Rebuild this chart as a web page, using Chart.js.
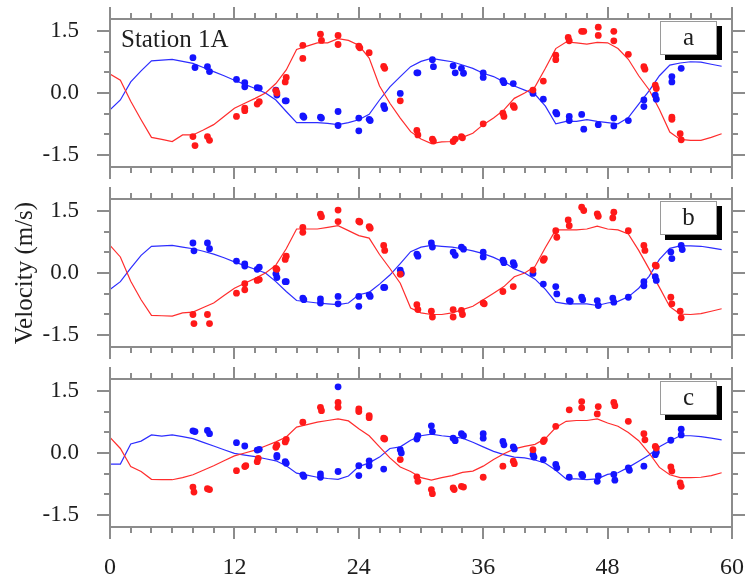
<!DOCTYPE html>
<html>
<head>
<meta charset="utf-8">
<script src="https://cdn.jsdelivr.net/npm/chart.js@4.4.1/dist/chart.umd.min.js"></script>
<style>
  html, body { margin: 0; padding: 0; background: #fff; }
  #wrap { position: relative; width: 745px; height: 577px; }
  #wrap canvas { position: absolute; left: 0; top: 0; }
</style>
</head>
<body>
<div id="wrap">
  <canvas id="cA" width="745" height="577"></canvas>
  <canvas id="cB" width="745" height="577"></canvas>
  <canvas id="cC" width="745" height="577"></canvas>
</div>
<script>
// ---------------- DATA ----------------
const stationName = 'Station 1A';
const yTitle = 'Velocity (m/s)';
const panelLabels = ['a', 'b', 'c'];
const xTickValues = [0, 12, 24, 36, 48, 60];
const xMinorTicks = [0,2,4,6,8,10,12,14,16,18,20,22,24,26,28,30,32,34,36,38,40,42,44,46,48,50,52,54,56,58,60];
const yTickValues = [-1.5, 0, 1.5];
const yMinorTicks = [-1.5, -1.0, -0.5, 0, 0.5, 1.0, 1.5];

const modelHours = [0,1,2,3,4,5,6,7,8,9,10,11,12,13,14,15,16,17,18,19,20,21,22,23,24,25,26,27,28,29,
                    30,31,32,33,34,35,36,37,38,39,40,41,42,43,44,45,46,47,48,49,50,51,52,53,54,55,56,57,58,59];

const aBlueModel = [-0.41,-0.17,0.27,0.54,0.78,0.80,0.82,0.77,0.72,0.62,0.52,0.42,0.31,0.21,0.11,0.00,-0.17,-0.45,-0.72,-0.72,
                    -0.72,-0.74,-0.77,-0.72,-0.65,-0.52,-0.17,0.15,0.40,0.64,0.77,0.84,0.80,0.76,0.68,0.60,0.48,0.40,0.27,0.17,
                    0.07,-0.03,-0.32,-0.75,-0.69,-0.69,-0.65,-0.69,-0.72,-0.75,-0.60,-0.27,0.05,0.42,0.68,0.73,0.76,0.75,0.70,0.65];
const aRedModel  = [0.46,0.31,-0.20,-0.65,-1.08,-1.13,-1.18,-1.02,-1.02,-0.90,-0.77,-0.57,-0.37,-0.25,-0.13,0.00,0.23,0.56,1.06,1.14,
                    1.22,1.22,1.32,1.28,1.16,0.85,0.17,-0.25,-0.61,-0.94,-1.12,-1.23,-1.19,-1.18,-1.08,-0.98,-0.77,-0.61,-0.41,-0.13,
                    0.00,0.15,0.60,1.08,1.24,1.22,1.19,1.23,1.22,1.08,0.82,0.42,0.08,-0.40,-0.95,-1.13,-1.15,-1.15,-1.08,-0.99];
const bBlueModel = [-0.40,-0.21,0.12,0.43,0.65,0.66,0.67,0.63,0.59,0.53,0.46,0.37,0.27,0.18,0.09,0.00,-0.21,-0.45,-0.67,-0.70,
                    -0.73,-0.75,-0.77,-0.73,-0.53,-0.47,-0.27,-0.05,0.23,0.52,0.63,0.67,0.65,0.63,0.59,0.54,0.47,0.38,0.26,0.10,
                    0.00,-0.15,-0.40,-0.71,-0.75,-0.75,-0.75,-0.79,-0.73,-0.69,-0.58,-0.37,-0.08,0.33,0.60,0.66,0.66,0.65,0.61,0.57];
const bRedModel  = [0.67,0.39,-0.20,-0.65,-1.03,-1.04,-1.05,-0.97,-0.95,-0.84,-0.73,-0.55,-0.37,-0.25,-0.13,0.00,0.19,0.59,1.07,1.07,
                    1.07,1.11,1.15,1.03,0.91,0.85,0.45,0.11,-0.25,-0.85,-0.97,-1.01,-1.01,-0.97,-0.89,-0.81,-0.65,-0.49,-0.33,-0.09,
                    0.00,0.16,0.62,1.05,1.05,1.05,1.07,1.14,1.07,1.05,0.95,0.55,0.10,-0.35,-0.82,-1.00,-1.01,-0.99,-0.93,-0.87];
const cBlueModel = [-0.27,-0.27,0.22,0.29,0.44,0.41,0.44,0.40,0.35,0.26,0.17,0.08,-0.01,-0.05,-0.09,-0.14,-0.19,-0.31,-0.49,-0.54,
                    -0.59,-0.62,-0.64,-0.56,-0.33,-0.24,-0.10,0.11,0.15,0.31,0.42,0.46,0.42,0.39,0.36,0.26,0.15,0.04,-0.04,-0.10,
                    -0.12,-0.17,-0.25,-0.42,-0.63,-0.63,-0.65,-0.63,-0.52,-0.48,-0.35,-0.20,-0.05,0.15,0.29,0.42,0.42,0.40,0.36,0.32];
const cRedModel  = [0.38,0.11,-0.33,-0.45,-0.64,-0.65,-0.65,-0.60,-0.53,-0.42,-0.31,-0.19,-0.07,0.00,0.07,0.17,0.27,0.39,0.63,0.69,
                    0.75,0.79,0.83,0.78,0.59,0.42,0.15,-0.12,-0.34,-0.45,-0.60,-0.66,-0.60,-0.55,-0.47,-0.44,-0.32,-0.16,-0.02,0.10,
                    0.16,0.21,0.35,0.62,0.77,0.79,0.79,0.83,0.73,0.65,0.50,0.30,0.00,-0.35,-0.53,-0.60,-0.60,-0.59,-0.55,-0.48];

// observations: [hour, velocity]
const aRedObs = [[8.0,-1.06],[8.2,-1.28],[9.4,-1.06],[9.6,-1.15],[12.2,-0.57],[13.0,-0.37],[13.0,-0.43],[14.2,-0.27],[14.4,-0.21],
  [16.0,0.06],[16.1,0.0],[16.9,0.27],[17.0,0.38],[18.6,1.16],[18.6,0.84],[20.3,1.43],[20.4,1.28],[22.0,1.40],[22.0,1.18],
  [24.0,1.14],[24.1,1.10],[25.0,0.98],[26.4,0.65],[26.5,0.60],[28.0,-0.19],[29.6,-0.91],[29.7,-1.02],[31.1,-1.12],[31.2,-1.17],
  [33.1,-1.18],[33.3,-1.12],[33.9,-1.06],[34.0,-1.09],[36.0,-0.75],[37.9,-0.49],[38.0,-0.57],[38.9,-0.31],[39.0,-0.35],
  [40.8,0.07],[41.8,0.29],[43.0,0.92],[43.0,0.81],[44.2,1.35],[44.3,1.27],[45.5,1.50],[45.7,1.50],[47.1,1.60],[47.1,1.40],
  [48.6,1.50],[48.6,1.27],[50.0,0.94],[51.5,0.64],[51.6,0.58],[52.6,0.19],[52.7,0.11],[54.2,-0.59],[54.2,-0.64],[55.0,-0.99],[55.1,-1.14]];
const aBlueObs = [[8.0,0.86],[8.2,0.62],[9.4,0.64],[9.6,0.52],[12.2,0.33],[13.0,0.25],[13.0,0.15],[14.2,0.13],[14.4,0.12],
  [16.0,0.07],[16.1,-0.05],[16.9,-0.19],[17.0,-0.19],[18.6,-0.56],[18.7,-0.59],[20.3,-0.59],[20.4,-0.61],[22.0,-0.45],[22.0,-0.79],
  [24.0,-0.61],[24.0,-0.92],[25.0,-0.64],[25.1,-0.67],[26.4,-0.31],[26.5,-0.38],[28.0,-0.01],[29.6,0.49],[29.7,0.49],[31.1,0.81],[31.2,0.64],
  [33.1,0.66],[33.3,0.49],[33.9,0.60],[34.1,0.48],[36.0,0.49],[36.0,0.38],[37.9,0.30],[38.0,0.25],[38.9,0.23],[40.8,-0.01],[41.8,-0.15],
  [43.0,-0.47],[43.1,-0.51],[44.3,-0.57],[44.3,-0.67],[45.5,-0.52],[45.7,-0.88],[47.1,-0.77],[48.6,-0.61],[48.6,-0.80],[50.0,-0.67],
  [51.5,-0.17],[51.5,-0.33],[52.6,-0.05],[52.7,-0.15],[54.2,0.40],[54.2,0.27],[55.1,0.60]];
const bRedObs = [[8.0,-1.01],[8.1,-1.23],[9.4,-1.01],[9.6,-1.23],[12.2,-0.49],[13.0,-0.26],[13.0,-0.41],[14.2,-0.18],[14.4,-0.16],
  [16.0,0.11],[16.1,0.09],[16.9,0.33],[17.0,0.41],[18.6,1.11],[18.6,0.99],[20.3,1.43],[20.4,1.37],[22.0,1.53],[22.0,1.25],
  [24.0,1.26],[24.1,1.24],[25.0,1.13],[25.1,1.09],[26.4,0.67],[26.5,0.55],[28.0,-0.03],[29.6,-0.77],[29.7,-0.89],[31.0,-0.93],[31.1,-1.07],
  [33.1,-0.89],[33.1,-1.07],[33.9,-0.91],[34.0,-1.01],[36.0,-0.73],[36.1,-0.75],[37.9,-0.45],[38.9,-0.33],[40.8,0.07],[41.8,0.31],[41.9,0.35],
  [43.0,1.03],[43.1,0.87],[44.2,1.29],[44.3,1.15],[45.5,1.60],[45.7,1.52],[47.0,1.44],[47.1,1.38],[48.6,1.48],[48.5,1.34],[50.0,1.03],
  [51.5,0.67],[51.6,0.55],[52.6,0.19],[52.7,0.17],[54.1,-0.59],[54.2,-0.75],[55.0,-0.93],[55.1,-1.09]];
const bBlueObs = [[8.0,0.73],[8.1,0.54],[9.4,0.73],[9.6,0.59],[12.2,0.29],[13.0,0.22],[13.0,0.17],[14.2,0.09],[14.4,0.14],
  [16.0,-0.02],[16.1,-0.11],[16.9,-0.21],[17.0,-0.21],[18.6,-0.61],[18.7,-0.65],[20.3,-0.63],[20.3,-0.73],[22.0,-0.57],[22.0,-0.75],
  [24.0,-0.57],[24.0,-0.81],[25.0,-0.53],[25.1,-0.57],[26.4,-0.35],[26.5,-0.35],[28.0,0.07],[28.1,-0.01],[29.6,0.46],[29.7,0.41],
  [31.0,0.73],[31.1,0.63],[33.1,0.51],[33.3,0.43],[33.9,0.63],[34.1,0.58],[36.0,0.51],[36.0,0.39],[37.9,0.31],[38.0,0.25],[38.9,0.25],[39.0,0.19],
  [40.8,-0.01],[41.8,-0.27],[43.0,-0.33],[43.1,-0.51],[44.3,-0.67],[44.4,-0.69],[45.5,-0.59],[45.6,-0.65],[47.0,-0.67],[47.1,-0.79],
  [48.5,-0.61],[48.6,-0.71],[50.0,-0.59],[51.5,-0.21],[51.5,-0.31],[52.6,-0.09],[52.7,-0.18],[54.1,0.51],[54.2,0.35],[55.1,0.67],[55.2,0.57]];
const cRedObs = [[8.0,-0.83],[8.1,-0.95],[9.4,-0.87],[9.6,-0.89],[12.2,-0.43],[13.0,-0.33],[13.1,-0.31],[14.2,-0.21],[14.3,-0.13],
  [16.0,0.14],[16.1,0.19],[16.9,0.27],[17.0,0.33],[18.6,0.75],[20.3,1.11],[20.4,1.03],[22.0,1.23],[22.0,1.11],[24.0,1.07],[24.0,1.01],
  [25.0,0.91],[25.0,0.86],[26.4,0.36],[26.5,0.34],[28.0,-0.16],[29.6,-0.58],[29.7,-0.69],[31.0,-0.89],[31.1,-0.99],[33.1,-0.85],[33.2,-0.89],
  [33.9,-0.81],[34.1,-0.83],[36.0,-0.59],[37.9,-0.32],[38.9,-0.20],[39.0,-0.26],[40.8,0.08],[41.8,0.28],[41.9,0.32],[43.0,0.65],[44.3,1.05],
  [45.5,1.25],[45.5,1.10],[47.1,1.13],[47.0,0.95],[48.6,1.23],[48.7,1.15],[50.0,0.77],[51.5,0.47],[51.6,0.32],[52.6,0.16],[52.7,0.12],
  [54.1,-0.34],[54.2,-0.44],[55.0,-0.73],[55.1,-0.81]];
const cBlueObs = [[8.0,0.54],[8.2,0.52],[9.4,0.55],[9.6,0.47],[12.2,0.25],[13.0,0.17],[14.2,0.07],[14.4,0.09],[16.1,-0.06],[16.1,-0.10],
  [16.9,-0.21],[17.0,-0.25],[18.6,-0.53],[18.7,-0.57],[20.3,-0.51],[20.3,-0.59],[22.0,1.61],[22.0,-0.45],[24.0,-0.31],[24.0,-0.55],
  [25.0,-0.19],[25.0,-0.31],[26.4,-0.39],[28.0,0.08],[28.1,0.00],[29.6,0.34],[29.7,0.42],[31.0,0.66],[31.1,0.52],[33.1,0.36],[33.3,0.30],
  [33.9,0.47],[34.1,0.42],[36.0,0.47],[36.0,0.36],[37.9,0.28],[38.0,0.20],[38.9,0.15],[39.0,0.10],[40.8,-0.04],[40.9,-0.10],[41.8,-0.16],
  [43.0,-0.28],[43.1,-0.36],[44.3,-0.59],[45.5,-0.52],[45.6,-0.56],[47.1,-0.56],[47.0,-0.69],[48.6,-0.52],[48.7,-0.66],[50.0,-0.36],[50.1,-0.42],
  [51.5,-0.32],[52.6,-0.04],[52.7,0.02],[54.1,0.31],[55.1,0.58],[55.1,0.44]];

// ---------------- STYLE ----------------
const FONT = '"Liberation Serif", "Times New Roman", serif';
const AXIS = '#8c8c8c';
const TEXT = '#1e1e1e';
const RED_DOT = 'rgb(255,25,25)', BLUE_DOT = 'rgb(20,20,255)';
const RED_LINE = 'rgb(255,45,45)', BLUE_LINE = 'rgb(45,45,255)';

function toXY(xs, ys) { return xs.map((x, i) => ({ x: x, y: ys[i] })); }
function obsXY(arr) { return arr.map(p => ({ x: p[0], y: p[1] })); }

function decorPlugin(label, showStation) {
  return {
    id: 'decor',
    afterDraw(chart) {
      const { ctx, chartArea: ca, scales } = chart;
      const x = scales.x, y = scales.y;
      ctx.save();
      ctx.strokeStyle = AXIS;
      ctx.lineWidth = 2;
      ctx.beginPath();
      xMinorTicks.forEach(v => {
        const px = Math.round(x.getPixelForValue(v));
        const L = xTickValues.includes(v) ? 12 : 6;
        ctx.moveTo(px, ca.top); ctx.lineTo(px, ca.top - L);
        ctx.moveTo(px, ca.bottom); ctx.lineTo(px, ca.bottom + L);
      });
      yMinorTicks.forEach(v => {
        const py = Math.round(y.getPixelForValue(v));
        const L = yTickValues.includes(v) ? 13 : 6;
        ctx.moveTo(ca.left, py); ctx.lineTo(ca.left - L, py);
        ctx.moveTo(ca.right, py); ctx.lineTo(ca.right + L, py);
      });
      ctx.stroke();
      ctx.strokeRect(ca.left, ca.top, ca.right - ca.left, ca.bottom - ca.top);

      // panel label box with shadow
      const bw = 57, bh = 34;
      const bx = ca.right - 72, by = ca.top + 2;
      ctx.fillStyle = '#000';
      ctx.fillRect(bx + 5, by + 5, bw, bh);
      ctx.fillStyle = '#fff';
      ctx.fillRect(bx, by, bw, bh);
      ctx.strokeStyle = '#9a9a9a';
      ctx.lineWidth = 1;
      ctx.strokeRect(bx + 0.5, by + 0.5, bw - 1, bh - 1);
      ctx.fillStyle = TEXT;
      ctx.font = '25px ' + FONT;
      ctx.textAlign = 'center';
      ctx.textBaseline = 'middle';
      ctx.fillText(label, bx + bw / 2, by + bh / 2);

      if (showStation) {
        ctx.textAlign = 'left';
        ctx.textBaseline = 'alphabetic';
        ctx.font = '25px ' + FONT;
        ctx.fillText(stationName, ca.left + 11, ca.top + 28);
      }
      ctx.restore();
    }
  };
}

function makePanel(canvasId, label, redModel, blueModel, redObs, blueObs, geom) {
  const dotStyle = (c) => ({
    type: 'scatter', showLine: false, pointRadius: 3.4, pointHoverRadius: 3.4,
    pointBackgroundColor: c, pointBorderColor: c, pointBorderWidth: 0, borderColor: c, backgroundColor: c
  });
  new Chart(document.getElementById(canvasId), {
    type: 'scatter',
    data: {
      datasets: [
        Object.assign({ data: obsXY(redObs) }, dotStyle(RED_DOT)),
        Object.assign({ data: obsXY(blueObs) }, dotStyle(BLUE_DOT)),
        { type: 'line', data: toXY(modelHours, redModel), borderColor: RED_LINE, borderWidth: 1.2,
          pointRadius: 0, fill: false, tension: 0 },
        { type: 'line', data: toXY(modelHours, blueModel), borderColor: BLUE_LINE, borderWidth: 1.2,
          pointRadius: 0, fill: false, tension: 0 }
      ]
    },
    options: {
      responsive: false,
      animation: false,
      devicePixelRatio: 1,
      events: [],
      layout: { padding: { left: 0, right: 13, top: geom.top, bottom: geom.padBottom } },
      plugins: { legend: { display: false }, tooltip: { enabled: false }, title: { display: false } },
      scales: {
        x: {
          type: 'linear', position: 'bottom', min: 0, max: 60,
          grid: { display: false, drawTicks: false },
          border: { display: false },
          afterBuildTicks: s => { s.ticks = xTickValues.map(v => ({ value: v })); },
          afterFit: s => { s.height = geom.xHeight; s.paddingLeft = 0; s.paddingRight = 0; },
          ticks: {
            display: geom.showX, autoSkip: false, maxRotation: 0, padding: 26,
            color: TEXT, font: { family: FONT, size: 24 },
            callback: v => String(v)
          }
        },
        y: {
          type: 'linear', position: 'left', min: -1.8, max: 1.8,
          grid: { display: false, drawTicks: false },
          border: { display: false },
          afterBuildTicks: s => { s.ticks = yTickValues.map(v => ({ value: v })); },
          afterFit: s => { s.width = 110; s.paddingTop = 0; s.paddingBottom = 0; },
          ticks: {
            autoSkip: false, padding: 31, color: TEXT, font: { family: FONT, size: 23 },
            callback: v => v.toFixed(1)
          },
          title: {
            display: geom.showTitle, text: yTitle, color: TEXT,
            font: { family: FONT, size: 25 }, padding: { top: 10, bottom: 0 }
          }
        }
      }
    },
    plugins: [decorPlugin(label, geom.station)]
  });
}

makePanel('cA', panelLabels[0], aRedModel, aBlueModel, aRedObs, aBlueObs,
  { top: 19, padBottom: 577 - 167, xHeight: 0, showX: false, showTitle: false, station: true });
makePanel('cB', panelLabels[1], bRedModel, bBlueModel, bRedObs, bBlueObs,
  { top: 199, padBottom: 577 - 347, xHeight: 0, showX: false, showTitle: true, station: false });
makePanel('cC', panelLabels[2], cRedModel, cBlueModel, cRedObs, cBlueObs,
  { top: 379, padBottom: 0, xHeight: 50, showX: true, showTitle: false, station: false });
</script>
</body>
</html>
